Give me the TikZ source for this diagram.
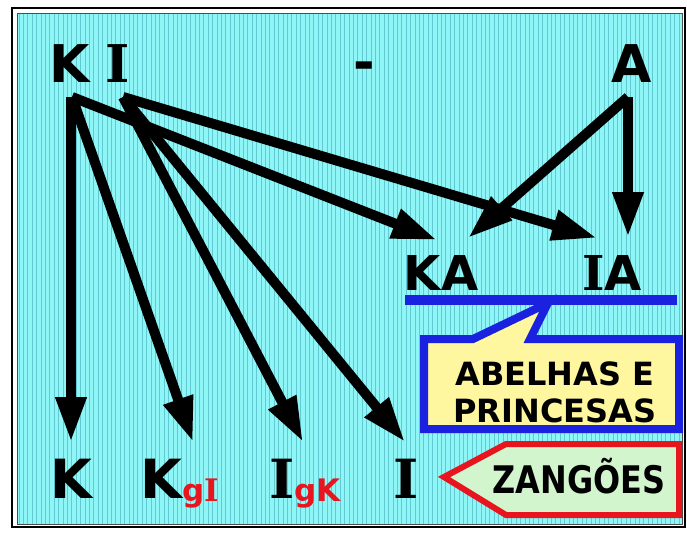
\documentclass[tikz,border=0pt]{standalone}
\usepackage{fontspec}
\setmainfont{DejaVu Sans}
\newfontfamily\serI{DejaVu Serif}
\usetikzlibrary{arrows.meta}
\definecolor{cyanbg}{HTML}{8EF6F6}
\definecolor{stripecol}{HTML}{62C8D2}
\definecolor{redlab}{HTML}{E8141E}
\definecolor{bluecall}{HTML}{1A22E0}
\definecolor{yellowcall}{HTML}{FFF6A0}
\definecolor{greencall}{HTML}{D2F5CE}
\newcommand{\SI}{{\serI\bfseries I}}
\newcommand{\subred}[1]{{\color{redlab}\fontsize{31}{34}\selectfont\raisebox{-3pt}{#1}}}
\begin{document}
\begin{tikzpicture}[x=1pt,y=-1pt,
  big/.style={font=\fontsize{52}{60}\selectfont\bfseries, inner sep=0pt, anchor=base},
  bot/.style={font=\fontsize{54}{60}\selectfont\bfseries, inner sep=0pt, anchor=base west},
  mid/.style={font=\fontsize{48}{56}\selectfont\bfseries, inner sep=0pt, anchor=base},
  arr/.style={line width=10pt, -{Triangle[length=45pt,width=29pt]}},
  stripe/.style={stripecol, line width=0.9pt},
  calltext/.style={font=\fontsize{32}{37}\selectfont\bfseries, inner sep=0pt, align=center}
]
\useasboundingbox (0,0) rectangle (687,532);
\fill[white] (0,0) rectangle (687,532);
\fill[cyanbg] (17,14) rectangle (682,524);
\foreach \i in {0,...,150} \draw[stripe] ({19+4.4*\i},14) -- ({19+4.4*\i},524);
\draw[line width=1pt, gray!60!black] (17,14) rectangle (682,524);
\draw[line width=2pt] (12,8) rectangle (685,527);

% top labels
\node[big] (Ktop) at (70,83) {K};
\node[big] (Itop) at (118,83) {\SI};
\node[big] (dash) at (364,81) {-};
\node[big] (Atop) at (632,83) {A};

% middle labels
\node[mid] (KA) at (441,290) {KA};
\node[mid] (IA) at (612,290) {\SI A};

% bottom labels
\node[bot] (Kb) at (50,498) {K};
\node[bot] (KgI) at (140,498) {K\subred{g\SI}};
\node[bot] (IgK) at (269,498) {\SI\subred{gK}};
\node[bot] (Ib) at (393,498) {\SI};

% arrow ends
\coordinate (ks) at (72,97);
\coordinate (is) at (123,97);
\coordinate (as) at (628,97);
\coordinate (tK) at (71,442);
\coordinate (tKgI) at (193,442);
\coordinate (tIgK) at (303,442);
\coordinate (tI) at (405,442);
\coordinate (tKA1) at (437,240);
\coordinate (tIA1) at (597,238);
\coordinate (tKA2) at (468,238);
\coordinate (tIA2) at (628,237);

\draw[arr] (ks) -- (tKA1);
\draw[arr] (is) -- (tIA1);
\draw[arr] (as) -- (tKA2);
\draw[arr] (as) -- (tIA2);
\draw[arr] (71,97) -- (tK);
\draw[arr] (ks) -- (tKgI);
\draw[arr] (is) -- (tIgK);
\draw[arr] (is) -- (tI);

% blue line and callout
\draw[bluecall, line width=10pt] (405,300) -- (677,300);
\draw[bluecall, line width=8pt, fill=yellowcall, line join=miter]
  (424,339) -- (473,339) -- (548,303) -- (530,339) -- (679,339) -- (679,429) -- (424,429) -- cycle;
\node[calltext] (abel) at (555,392) {ABELHAS E\\PRINCESAS};

% zangoes callout
\draw[redlab, line width=6pt, fill=greencall, line join=miter]
  (444,477) -- (506,444) -- (679,444) -- (679,515) -- (506,515) -- cycle;
\node[font=\fontsize{38}{44}\selectfont\bfseries, inner sep=0pt, anchor=base] (zang) at (579,493) {\scalebox{0.84}[1]{ZANGÕES}};
\end{tikzpicture}
\end{document}
